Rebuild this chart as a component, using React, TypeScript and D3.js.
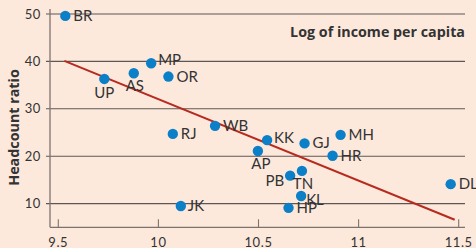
import React, { useEffect, useRef } from 'react';
import * as d3 from 'd3';

// states, log income per capita, headcount ratio
const states = ['BR', 'UP', 'AS', 'MP', 'OR', 'WB', 'RJ', 'JK', 'KK', 'AP', 'GJ', 'MH', 'HR', 'TN', 'PB', 'KL', 'HP', 'DL'];
const logIncome = [9.535, 9.73, 9.877, 9.964, 10.05, 10.283, 10.072, 10.112, 10.543, 10.497, 10.73, 10.91, 10.87, 10.717, 10.658, 10.713, 10.65, 11.46];
const headcount = [49.6, 36.3, 37.5, 39.6, 36.8, 26.4, 24.7, 9.5, 23.4, 21.1, 22.7, 24.5, 20.1, 16.9, 15.9, 11.6, 9.1, 14.1];

const fitX = [9.53, 11.48];
const fitY = [40.1, 6.6];

const xTicks = [9.5, 10, 10.5, 11, 11.5];
const yTicks = [10, 20, 30, 40, 50];

// label placement (px offset from point, anchor)
const labelPos: Record<string, [number, number, string]> = {
  BR: [8, 5, 'start'], UP: [0, 19, 'middle'], AS: [1, 18, 'middle'], MP: [7, 2, 'start'],
  OR: [8, 5, 'start'], WB: [8, 5, 'start'], RJ: [8, 5, 'start'], JK: [7, 5, 'start'],
  KK: [7, 3, 'start'], AP: [3, 18, 'middle'], GJ: [8, 5, 'start'], MH: [8, 5, 'start'],
  HR: [8, 5, 'start'], TN: [1, 18, 'middle'], PB: [-6, 10, 'end'], KL: [5, 9, 'start'],
  HP: [8, 5, 'start'], DL: [8, 5, 'start'],
};

export default function App() {
  const ref = useRef<SVGSVGElement>(null);

  useEffect(() => {
    if (!ref.current) return;
    const svg = d3.select(ref.current);
    svg.selectAll('*').remove();

    const width = 476, height = 248;
    const x = d3.scaleLinear().domain([9.5, 11.5]).range([58.3, 458.7]);
    const y = d3.scaleLinear().domain([10, 50]).range([203.6, 14]);
    const font = 'Lato, "Open Sans", sans-serif';
    const titleFont = '"Open Sans", Lato, sans-serif';

    svg.append('rect').attr('width', width).attr('height', height).attr('fill', '#fde9dc');

    // gridlines
    svg.append('g').selectAll('line').data(yTicks).join('line')
      .attr('x1', 46).attr('x2', 465)
      .attr('y1', d => y(d)).attr('y2', d => y(d))
      .attr('stroke', '#5d5753').attr('stroke-width', 1.1);

    // y tick labels
    svg.append('g').selectAll('text').data(yTicks).join('text')
      .attr('x', 41).attr('y', d => y(d) + 4.5)
      .attr('text-anchor', 'end')
      .attr('font-family', font).attr('font-size', 13).attr('fill', '#333')
      .attr('letter-spacing', 0.6)
      .text(d => d);

    const base = y(5);
    // axes
    svg.append('line').attr('x1', 50).attr('x2', 50).attr('y1', 9).attr('y2', base)
      .attr('stroke', '#7d736d').attr('stroke-width', 1.3);
    svg.append('line').attr('x1', 50).attr('x2', 465).attr('y1', base).attr('y2', base)
      .attr('stroke', '#7d736d').attr('stroke-width', 1.3);

    svg.append('g').selectAll('line').data(xTicks).join('line')
      .attr('x1', d => x(d)).attr('x2', d => x(d))
      .attr('y1', base).attr('y2', base - 8)
      .attr('stroke', '#7d736d').attr('stroke-width', 1.1);

    svg.append('g').selectAll('text').data(xTicks).join('text')
      .attr('x', d => x(d)).attr('y', 246.5)
      .attr('text-anchor', 'middle')
      .attr('font-family', font).attr('font-size', 13).attr('fill', '#333')
      .attr('letter-spacing', 0.6)
      .text(d => d);

    // fit line
    svg.append('line')
      .attr('x1', x(fitX[0])).attr('y1', y(fitY[0]))
      .attr('x2', x(fitX[1])).attr('y2', y(fitY[1]))
      .attr('stroke', '#b72a1f').attr('stroke-width', 2);

    const pts = states.map((s, i) => ({ s, lx: logIncome[i], h: headcount[i] }));

    svg.append('g').selectAll('circle').data(pts).join('circle')
      .attr('cx', d => x(d.lx)).attr('cy', d => y(d.h)).attr('r', 5.2)
      .attr('fill', '#0b7fc7');

    svg.append('g').selectAll('text').data(pts).join('text')
      .attr('x', d => x(d.lx) + labelPos[d.s][0])
      .attr('y', d => y(d.h) + labelPos[d.s][1])
      .attr('text-anchor', d => labelPos[d.s][2])
      .attr('font-family', font).attr('font-size', 15).attr('fill', '#333')
      .text(d => d.s);

    svg.append('text')
      .attr('x', 465).attr('y', 37)
      .attr('text-anchor', 'end')
      .attr('font-family', titleFont).attr('font-size', 14.3).attr('font-weight', 'bold').attr('fill', '#333')
      .text('Log of income per capita');

    svg.append('text')
      .attr('transform', 'translate(19,127.5) rotate(-90)')
      .attr('text-anchor', 'middle')
      .attr('font-family', titleFont).attr('font-size', 14.3).attr('font-weight', 'bold').attr('fill', '#333')
      .text('Headcount ratio');
  }, []);

  return (
    <div style={{ position: 'absolute', left: 0, top: 0 }}>
      <svg ref={ref} width={476} height={248} style={{ display: 'block' }} />
    </div>
  );
}
